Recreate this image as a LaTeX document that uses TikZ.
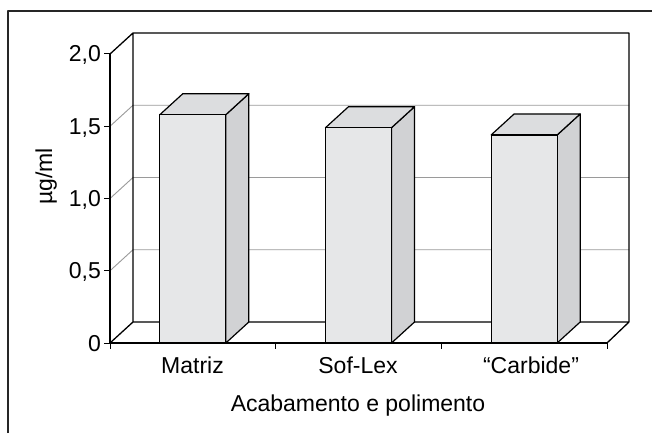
\documentclass[tikz,border=0pt]{standalone}
\usepackage{fontspec}
\setmainfont{Liberation Sans}
\definecolor{barfront}{HTML}{E6E7E8}
\definecolor{barside}{HTML}{D1D2D4}
\definecolor{bartop}{HTML}{DCDDDF}
\definecolor{gridgray}{HTML}{9A9A9A}

\begin{document}
\begin{tikzpicture}[x=1pt, y=-1pt, line join=round,
    every node/.style={font=\fontsize{23}{27}\selectfont, inner sep=0pt}]
      \useasboundingbox (0,0) rectangle (652,433);
      \fill[white] (0,0) rectangle (652,433);

      % frame
      \draw[line width=2.2pt, black!85] (8,433) -- (8,11) -- (652,11);

      % grid on the back wall
      \foreach \v in {0.5, 1, 1.5}
      {
        \draw[gridgray, line width=0.9pt]
          (110, {343-144.5*\v}) -- ++(23,-21) -- (629, {322-144.5*\v});
      }

      % walls and floor
      \draw[line width=1.3pt]
        (110,54) -- (133,33) -- (629,33) -- (629,322) -- (133,322) -- (133,33)
        (110,343) -- (133,322)
        (607,343) -- (629,322);

      % axes
      \draw[line width=1.3pt] (110,54) -- (110,343) -- (607,343);

      \foreach \i/\t in {0/0, 1/{0,5}, 2/{1,0}, 3/{1,5}, 4/{2,0}}
      {
        \draw[line width=1pt] (104, {343-72.25*\i}) -- (110, {343-72.25*\i});
        \node[anchor=base east] (t\i) at (101, {351-72.25*\i}) {\t};
      }

      \foreach \x in {110, 275.67, 441.33, 607}
        \draw[line width=1pt] (\x,343) -- (\x,349);

      % bars
      \foreach \i/\v in {1/1.58, 2/1.49, 3/1.44}
      {
        \pgfmathsetmacro\xl{110+165.67*(\i-0.5)-33}
        \pgfmathsetmacro\ytop{343-144.5*\v}
        \draw[fill=barside, line width=1.2pt]
          ({\xl+66},343) -- ++(23,-21) -- ({\xl+89},{\ytop-21}) -- ({\xl+66},\ytop) -- cycle;
        \draw[fill=bartop, line width=1.2pt]
          (\xl,\ytop) -- ++(23,-21) -- ++(66,0) -- ({\xl+66},\ytop) -- cycle;
        \draw[fill=barfront, line width=1.2pt]
          (\xl,343) rectangle ({\xl+66},\ytop);
      }

      % labels
      \node[anchor=base] (matriz) at (192.5,373) {Matriz};
      \node[anchor=base] (soflex) at (358,373) {Sof-Lex};
      \node[anchor=base] (carbide) at (531,373) {“Carbide”};
      \node[anchor=base] (xtitle) at (358,411) {Acabamento e polimento};
      \node[anchor=base, rotate=90] (ytitle) at (52,176.5) {µg/ml};
    \end{tikzpicture}
\end{document}
